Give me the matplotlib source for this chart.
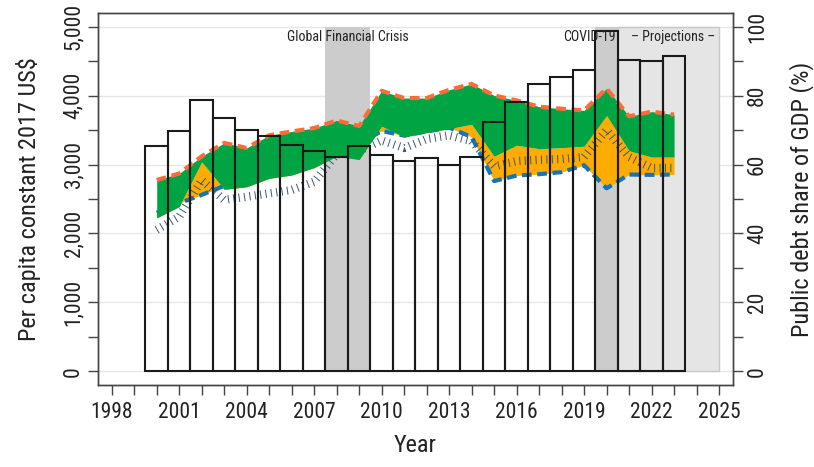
import matplotlib
matplotlib.use("Agg")
import matplotlib.pyplot as plt
from matplotlib import font_manager
from matplotlib.ticker import MultipleLocator, FuncFormatter
from matplotlib.patches import Rectangle

# narrow DIN-like look: use a condensed face if one is installed, else Roboto
installed = {f.name for f in font_manager.fontManager.ttflist}
if 'Roboto Condensed' in installed:
    family, fs_tick, fs_lab, fs_note = 'Roboto Condensed', 15.5, 17.5, 10
elif 'Liberation Sans Narrow' in installed:
    family, fs_tick, fs_lab, fs_note = 'Liberation Sans Narrow', 16.5, 17.5, 10
else:
    family, fs_tick, fs_lab, fs_note = 'Roboto', 13.5, 15, 8.8
plt.rcParams['font.family'] = [family, 'DejaVu Sans']
plt.rcParams['lines.scale_dashes'] = False

# --- data ---
years = list(range(2000, 2024))

# public debt, % of GDP (bars, right axis)
debt_pct = [65.4, 69.8, 78.7, 73.6, 69.9, 68.4, 65.8, 64.0, 62.1, 65.3,
            62.9, 61.1, 62.0, 60.0, 62.1, 72.3, 78.1, 83.4, 85.4, 87.5,
            98.7, 90.4, 90.0, 91.4]

# per capita, constant 2017 US$ (left axis)
upper = [2775, 2870, 3120, 3314, 3241, 3425, 3480, 3530, 3640, 3560,
         4070, 3965, 3965, 4085, 4170, 4003, 3931, 3840, 3810, 3786,
         4105, 3700, 3768, 3725]
green_low = [2225, 2389, 3039, 2640, 2677, 2799, 2847, 2955, 3120, 3073,
             3555, 3400, 3463, 3521, 3584, 3120, 3280, 3230, 3245, 3266,
             3714, 3200, 3110, 3110]
blue_low = [2300, 2440, 2560, 2690, 2850, 2950, 3050, 3150, 3300, 3300,
            3487, 3420, 3480, 3536, 3400, 2760, 2840, 2860, 2890, 2990,
            2655, 2855, 2850, 2855]
hatched = [2052, 2244, 2775, 2486, 2533, 2582, 2630, 2750, 3150, 3200,
           3350, 3240, 3370, 3425, 3340, 2975, 3050, 3070, 3080, 3111,
           3500, 3110, 2950, 2950]

gfc = (2007.5, 2009.5)
covid = (2019.5, 2020.5)
proj = (2020.5, 2025)

fig = plt.figure(figsize=(8.14, 4.67), dpi=100)
ax = fig.add_axes([0.1204, 0.1756, 0.7801, 0.7966])
ax2 = ax.twinx()

ax.set_xlim(1997.39, 2025.62)
ax.set_ylim(-200, 5200)
ax2.set_ylim(-4, 104)

# shaded periods
ax.add_patch(Rectangle((gfc[0], 0), gfc[1] - gfc[0], 5000, facecolor='#cccccc', edgecolor='none', zorder=1))
ax.add_patch(Rectangle((proj[0], 0), proj[1] - proj[0], 5000, facecolor='#e5e5e5', edgecolor='#c8c8c8', lw=1, zorder=1))
ax.add_patch(Rectangle((covid[0], 0), covid[1] - covid[0], 5000, facecolor='#cccccc', edgecolor='none', zorder=1.1))

# bands and lines
ax.fill_between(years, green_low, blue_low, color='#ffab00', lw=0, zorder=2)
ax.plot(years, blue_low, color='#1474b5', lw=3, dashes=(7, 4), zorder=2.1)
ax.plot(years, hatched, color='#3d5773', lw=6, dashes=(0.7, 3.2),
        dash_capstyle='butt', zorder=2.2)
ax.fill_between(years, green_low, upper, color='#00a443', lw=0, zorder=2.3)
ax.plot(years, upper, color='#ff6a3a', lw=3, dashes=(7, 4), zorder=2.4)

# bars on top
ax2.bar(years, debt_pct, width=1.0, facecolor='none', edgecolor='#1a1a1a', lw=1.5, zorder=3)

# annotations
ax2.text(2008.5, 97.1, 'Global Financial Crisis', ha='center', va='center', fontsize=fs_note, color='#222222', zorder=4)
ax2.text(2020.4, 97.1, 'COVID-19', ha='right', va='center', fontsize=fs_note, color='#222222', zorder=4)
ax2.text(2022.95, 97.1, '– Projections –', ha='center', va='center', fontsize=fs_note, color='#222222', zorder=4)

# axes styling
ax.yaxis.set_major_locator(MultipleLocator(1000))
ax.yaxis.set_minor_locator(MultipleLocator(500))
ax.yaxis.set_major_formatter(FuncFormatter(lambda v, p: f"{int(v):,}"))
ax2.yaxis.set_major_locator(MultipleLocator(20))
ax2.yaxis.set_minor_locator(MultipleLocator(10))
ax.xaxis.set_minor_locator(MultipleLocator(1))
ax.set_xticks(range(1998, 2026, 3))

ax.grid(axis='y', which='major', color='#e6e6e6', lw=1, zorder=0)
ax.set_axisbelow(True)

for a in (ax, ax2):
    for s in a.spines.values():
        s.set_color('#444444')
        s.set_linewidth(1)
    a.tick_params(which='both', direction='out', length=7, width=1, color='#444444',
                  labelsize=fs_tick, labelcolor='#222222')

ax.tick_params(axis='x', pad=5)
ax.tick_params(axis='y', pad=3)
ax2.tick_params(axis='y', pad=3)
for lab in ax.get_yticklabels() + ax2.get_yticklabels():
    lab.set_rotation(90)
    lab.set_va('center')

ax.set_xlabel('Year', fontsize=fs_lab, color='#222222', labelpad=8)
ax.set_ylabel('Per capita constant 2017 US$', fontsize=fs_lab, color='#222222', labelpad=16)
ax2.set_ylabel('Public debt share of GDP (%)', fontsize=fs_lab, color='#222222', rotation=90, labelpad=15)

fig.savefig('out.png', dpi=100)
